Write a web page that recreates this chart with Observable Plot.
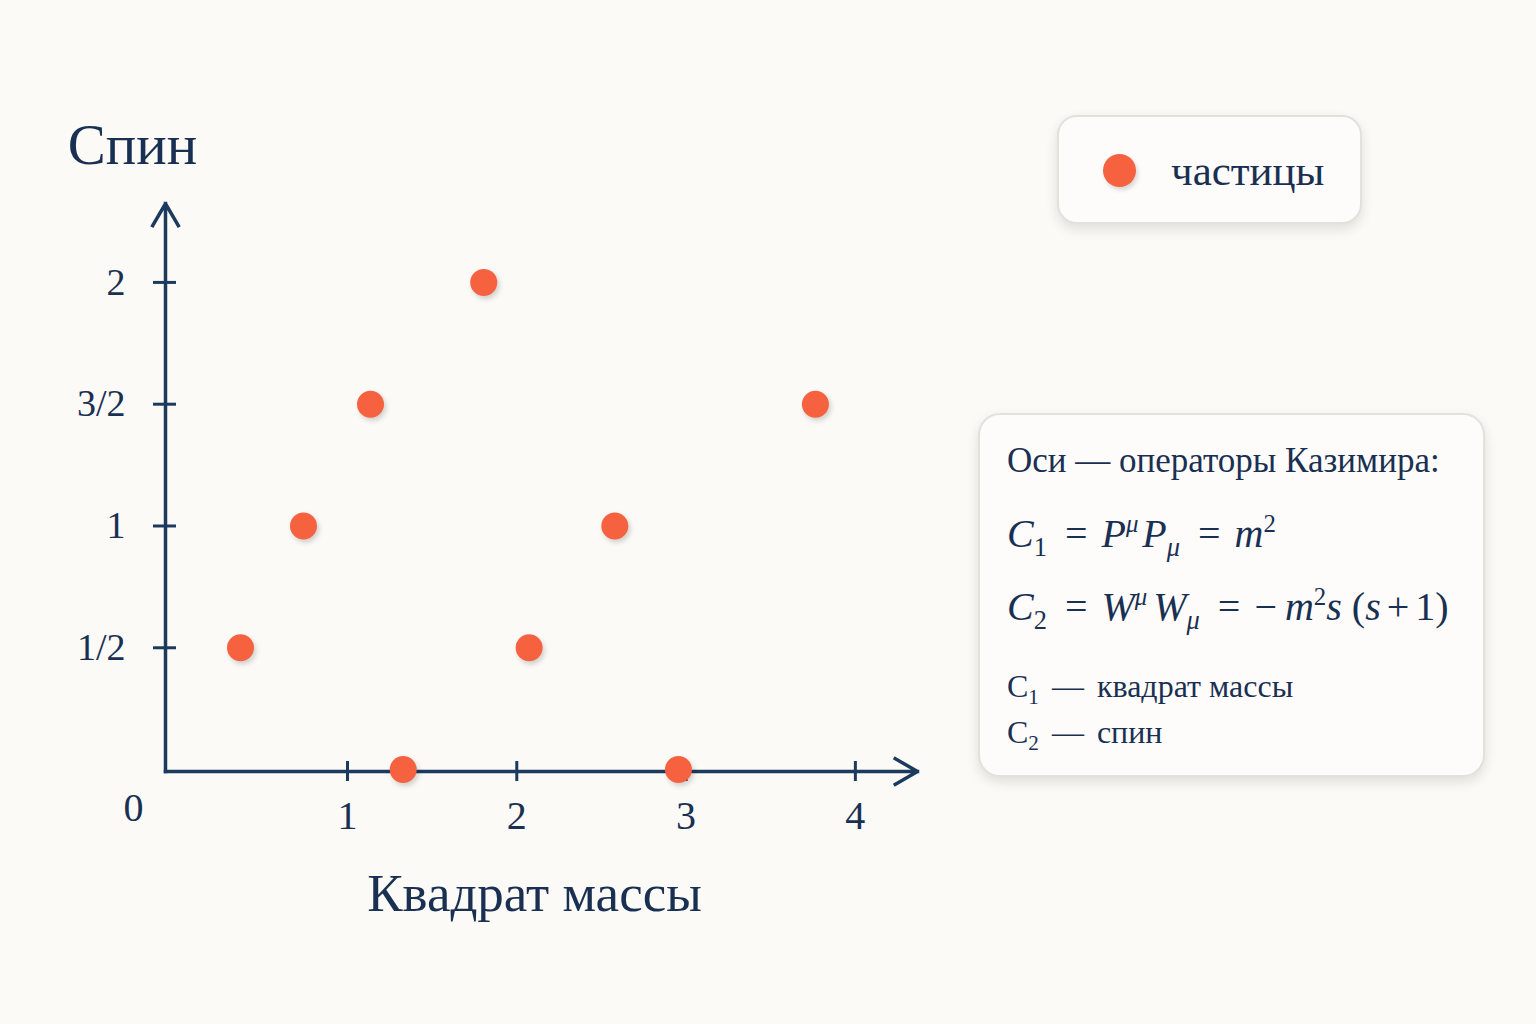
<!DOCTYPE html>
<html>
<head>
<meta charset="utf-8">
<script src="https://cdn.jsdelivr.net/npm/d3@7"></script>
<script src="https://cdn.jsdelivr.net/npm/@observablehq/plot@0.6"></script>
<style>
  html, body { margin: 0; padding: 0; background: #fbfaf6; }
  #page { position: relative; width: 1536px; height: 1024px; overflow: hidden;
          font-family: "Liberation Serif", "Times New Roman", serif; color: #1a3052; }
  #chart svg { display: block; }
  .box { position: absolute; background: #fdfcfa; border: 2px solid #e3e1dc; border-radius: 20px;
         box-shadow: 0 5px 12px rgba(40, 40, 40, 0.13); box-sizing: border-box; }
  .t { position: absolute; white-space: nowrap; line-height: 1; }
  .t sub { font-size: 0.66em; vertical-align: -0.34em; line-height: 0; }
  .t sup { font-size: 0.62em; vertical-align: 0.6em; line-height: 0; }
  .eq { display: inline-block; margin: 0 14px 0 18px; }
  .dash { display: inline-block; margin: 0 13px 0 13px; }
</style>
</head>
<body>
<div id="page">
  <div id="chart"></div>

  <div class="box" style="left:1057px; top:115px; width:305px; height:109px;"></div>
  <div id="legendDot" style="position:absolute; left:1102.5px; top:153.5px; width:33px; height:33px; border-radius:50%; box-shadow:2px 3px 4px rgba(0,0,0,0.15);"></div>
  <div class="t" id="legendText" style="left:1171px; top:149px; font-size:43px;"></div>

  <div class="box" style="left:978px; top:413px; width:507px; height:364px; border-radius:22px;"></div>
  <div class="t" style="left:1007px; top:442.7px; font-size:35px;">Оси — операторы Казимира:</div>
  <div class="t" style="left:1007px; top:513.5px; font-size:40px;"><i>C</i><sub>1</sub><span class="eq">=</span><i>P</i><sup><i>μ</i></sup><i style="margin-left:4px">P</i><sub><i>μ</i></sub><span class="eq">=</span><i>m</i><sup>2</sup></div>
  <div class="t" style="left:1007px; top:586.5px; font-size:40px;"><i>C</i><sub>2</sub><span class="eq">=</span><i>W</i><sup><i>μ</i></sup><i style="margin-left:6px">W</i><sub><i>μ</i></sub><span class="eq">=</span><span style="margin-right:8px">−</span><i>m</i><sup>2</sup><i>s</i><span style="margin-left:10px">(</span><i>s</i><span style="margin:0 6px">+</span>1)</div>
  <div class="t" style="left:1007px; top:670.2px; font-size:32px;">C<sub>1</sub><span class="dash">—</span>квадрат массы</div>
  <div class="t" style="left:1007px; top:716.2px; font-size:32px;">C<sub>2</sub><span class="dash">—</span>спин</div>
</div>

<script>
// ---- data ----
const massSquared = [0.368, 0.740, 1.136, 1.329, 1.805, 2.073, 2.579, 2.955, 3.764];
const spinValues  = [0.5,   1,     1.5,   0,     2,     0.5,   1,     0,     1.5];
const xTickValues = [1, 2, 3, 4];
const xTickLabels = ["1", "2", "3", "4"];
const yTickValues = [0.5, 1, 1.5, 2];
const yTickLabels = ["1/2", "1", "3/2", "2"];
const originLabel = "0";
const xTitle = "Квадрат массы";
const yTitle = "Спин";
const legendLabel = "частицы";
const xDomain = [-0.075, 4.367];
const yDomain = [-0.008, 2.324];

// ---- styles ----
const axisColor = "#1b3a5e";
const textColor = "#1a3052";
const dotColor = "#f6623f";
const fontFamily = "'Liberation Serif', 'Times New Roman', serif";

const points = massSquared.map((m, i) => ({m, s: spinValues[i]}));
const xFmt = new Map(xTickValues.map((v, i) => [v, xTickLabels[i]]));
const yFmt = new Map(yTickValues.map((v, i) => [v, yTickLabels[i]]));
const axes = [
  {x1: xDomain[0], y1: yDomain[0], x2: xDomain[1], y2: yDomain[0]},
  {x1: xDomain[0], y1: yDomain[0], x2: xDomain[0], y2: yDomain[1]}
];

const chart = Plot.plot({
  width: 1536,
  height: 1024,
  marginLeft: 165,
  marginRight: 619,
  marginTop: 203,
  marginBottom: 253,
  style: {background: "transparent", color: textColor, fontFamily, overflow: "visible"},
  x: {domain: xDomain},
  y: {domain: yDomain},
  marks: [
    Plot.arrow(axes, {x1: "x1", y1: "y1", x2: "x2", y2: "y2", stroke: axisColor, strokeWidth: 3.5,
      headLength: 11, headAngle: 60, strokeLinecap: "square"}),
    Plot.axisX(xTickValues, {label: null, tickFormat: d => xFmt.get(d), tickSize: 20, dy: -10,
      tickPadding: 19, fontSize: 40, stroke: axisColor, fill: textColor, strokeWidth: 3}),
    Plot.axisY(yTickValues, {label: null, tickFormat: d => yFmt.get(d), tickSize: 23, dx: 11,
      tickPadding: 28, fontSize: 38, stroke: axisColor, fill: textColor, strokeWidth: 3}),
    Plot.text([originLabel], {frameAnchor: "bottom-left", text: d => d, dx: -32, dy: 37,
      fontSize: 40, fill: textColor, textAnchor: "middle", lineAnchor: "middle"}),
    Plot.text([yTitle], {frameAnchor: "top-left", text: d => d, dx: -33, dy: -58,
      fontSize: 57, fill: textColor, textAnchor: "middle", lineAnchor: "middle"}),
    Plot.text([xTitle], {frameAnchor: "bottom", text: d => d, dx: -7, dy: 123,
      fontSize: 53, fill: textColor, textAnchor: "middle", lineAnchor: "middle"}),
    Plot.dot(points, {x: "m", y: "s", r: 13.5, fill: dotColor, stroke: "none"})
  ]
});

d3.select(chart).selectAll('g[aria-label="dot"]')
  .style("filter", "drop-shadow(2px 3px 2.5px rgba(0,0,0,0.17))");

document.getElementById("chart").appendChild(chart);
document.getElementById("legendDot").style.background = dotColor;
document.getElementById("legendText").textContent = legendLabel;
</script>
</body>
</html>
